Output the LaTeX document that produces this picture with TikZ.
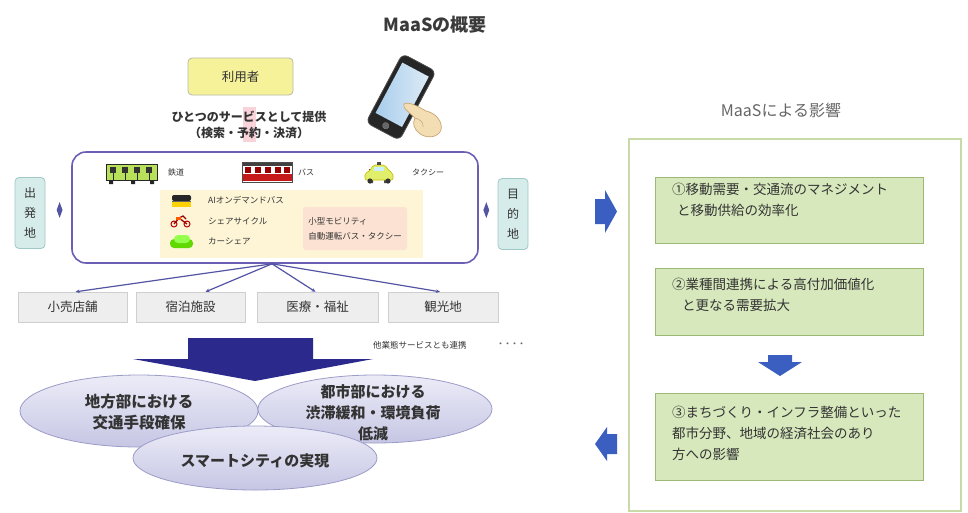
\documentclass[tikz,border=0pt]{standalone}
\usepackage{fontspec}
\setmainfont{Noto Sans CJK JP}
\usetikzlibrary{shapes.geometric,arrows.meta,calc}

\definecolor{textdark}{HTML}{333333}
\definecolor{titlegray}{HTML}{3A3A3A}
\definecolor{subgray}{HTML}{666666}
\definecolor{useryellow}{HTML}{F6F29A}
\definecolor{boxgray}{HTML}{B9B9A8}
\definecolor{pinkhl}{HTML}{F8D3DA}
\definecolor{mainpurple}{HTML}{6A5FB5}
\definecolor{inneryellow}{HTML}{FDF5D6}
\definecolor{pinkbox}{HTML}{FBE2D2}
\definecolor{tealfill}{HTML}{D6ECEA}
\definecolor{tealborder}{HTML}{9FC9C6}
\definecolor{fanline}{HTML}{5454A4}
\definecolor{destgray}{HTML}{EEEEEE}
\definecolor{destborder}{HTML}{CFCFCF}
\definecolor{navyarrow}{HTML}{2B2A8C}
\definecolor{elltop}{HTML}{ECECF8}
\definecolor{ellbot}{HTML}{C6C6E4}
\definecolor{ellborder}{HTML}{9C9CC8}
\definecolor{panelgreen}{HTML}{C9D9A8}
\definecolor{greenfill}{HTML}{D7E8BC}
\definecolor{greenborder}{HTML}{9DB874}
\definecolor{bluearrow}{HTML}{3B5FC0}
\definecolor{phonescreen}{HTML}{A9CDEB}
\definecolor{handfill}{HTML}{F3DDB3}
\definecolor{handline}{HTML}{C8A672}

\newcommand{\fsz}[2]{\fontsize{#1}{#2}\selectfont}

\begin{document}
\begin{tikzpicture}[x=1pt,y=-1pt,
  every node/.style={text=textdark},
  placebox/.style={draw=tealborder, fill=tealfill, rounded corners=4, line width=0.8,
    minimum width=30, minimum height=71, inner sep=0, align=center, font=\fsz{12}{20}},
  destbox/.style={draw=destborder, fill=destgray, minimum height=30, inner sep=0,
    font=\fsz{12.5}{15}},
  modelabel/.style={anchor=west, inner sep=0, font=\fsz{8}{9}},
  fan/.style={draw=fanline, line width=1.2, -{Stealth[length=4pt,width=3.5pt]}},
  effect/.style={draw=ellborder, fill=elltop, top color=elltop, bottom color=ellbot,
    ellipse, inner sep=0, line width=0.8},
  efftext/.style={align=center, inner sep=0, font=\bfseries\fsz{15.5}{21}},
  impact/.style={draw=greenborder, fill=greenfill, line width=1, minimum width=268, inner sep=0},
  imptext/.style={anchor=west, align=left, inner sep=0, font=\fsz{13.5}{21}},
  tick/.style={diamond, fill=fanline, minimum width=6, minimum height=16, inner sep=0},
]
\useasboundingbox (0,0) rectangle (968,512);
\fill[white] (0,0) rectangle (968,512);

% ---------- left half: overview ----------
\node[font=\bfseries\fsz{18}{22}, text=titlegray] (title) at (435,25) {MaaSの概要};

\node[draw=boxgray, fill=useryellow, rounded corners=4, line width=0.8,
      minimum width=105, minimum height=37, font=\fsz{12.5}{15}] (user) at (240.5,76.5) {利用者};

\fill[pinkhl] (243,107) rectangle (256,142);
\node[font=\bfseries\fsz{12}{16}, align=center] (svc) at (249,125) {ひとつのサービスとして提供\\（検索・予約・決済）};

% smartphone held by a hand
\begin{scope}[shift={(401,97)}, rotate=-28]
  \draw[black!70, fill=black!85, rounded corners=6, line width=0.8] (-19,-39) rectangle (19,39);
  \shade[left color=phonescreen, right color=phonescreen!40] (-15,-31) rectangle (15,26);
  \draw[black!50, fill=black!60] (0,32.5) circle (3.2);
\end{scope}
\draw[handline, fill=handfill, line width=0.7]
  (404,104) .. controls (409,101) and (419,107) .. (426,111)
  .. controls (436,113) and (443,122) .. (441,130)
  .. controls (438,138) and (426,139) .. (419,133)
  .. controls (414,129) and (412,123) .. (415,118)
  .. controls (410,113) and (402,108) .. (404,104) -- cycle;
\draw[handline, line width=0.6] (415,118) .. controls (420,119) and (424,123) .. (423,127);

% main service frame
\node[draw=mainpurple, line width=1.6, rounded corners=14, minimum width=406,
      minimum height=111, inner sep=0] (main) at (275,207.5) {};
\node[fill=inneryellow, minimum width=263, minimum height=68, inner sep=0] (modes) at (291.5,224) {};
\node[fill=pinkbox, rounded corners=3, minimum width=104, minimum height=43, inner sep=0,
      align=left, font=\fsz{8.5}{15}] (small) at (355,228.5) {小型モビリティ\\自動運転バス・タクシー};

% train icon
\fill[yellow!60!green!70] (106,164) rectangle (157,180);
\draw[black!85, line width=0.9] (106,164) rectangle (157,180);
\foreach \px in {110,122,134,146} {
  \fill[black!80] (\px,166.5) rectangle (\px+6,173);
  \draw[black!85, line width=0.8] (\px+3,173) -- (\px+3,180);
}
\fill[black!85] (109,180) rectangle (113,184) (131,180) rectangle (135,184) (150,180) rectangle (154,184);
\node[modelabel] (lrail) at (168,172) {鉄道};

% bus icon
\fill[white] (242,162) rectangle (292,182);
\fill[black!75] (242,162) rectangle (292,166);
\foreach \px in {245,255,265,275,284} \fill[red!60!black] (\px,167) rectangle (\px+6,173);
\fill[red!75!black!90] (242,174) rectangle (292,181);
\draw[black!70, line width=0.7] (242,162) rectangle (292,182);
\node[modelabel] (lbus) at (298,172) {バス};

% taxi icon
\fill[black!70] (369,169) rectangle (373,183) (384,169) rectangle (388,183);
\draw[yellow!50!olive, fill=yellow!80!green!60, line width=0.6, rounded corners=2]
  (365,180) -- (365,173) -- (370,171) -- (373,165) -- (385,165) -- (389,171) -- (393,173) -- (393,180) -- cycle;
\fill[white!80!cyan] (374,166.5) rectangle (384,170.5);
\fill[black!70] (377,162) rectangle (381,165);
\fill[black!80] (370,181) circle (2.6) (388,181) circle (2.6);
\node[modelabel] (ltaxi) at (412,172) {タクシー};

% on-demand bus icon
\fill[black!85, rounded corners=2] (172,195) rectangle (191,201);
\fill[yellow!70!orange] (172,201) rectangle (191,206.5);
\draw[black!60, line width=0.5] (172,201) -- (191,201);
\node[modelabel, font=\fsz{8.5}{9}] (laibus) at (208,200) {AIオンデマンドバス};

% bicycle icon
\draw[red!70!black, line width=1] (174,224) circle (3) (187,224) circle (3);
\draw[red!60!black, line width=1.3] (174,224) -- (179,218) -- (187,224) (179,218) -- (183,216) -- (186,219);
\fill[orange!70!red] (176,217) rectangle (181,220);
\node[modelabel, font=\fsz{8.5}{9}] (lcycle) at (208,221) {シェアサイクル};

% car-share icon
\fill[green!55!yellow!85!black, rounded corners=4] (170,239) rectangle (193,248);
\fill[green!60!yellow!70, rounded corners=4] (174,235) rectangle (190,243);
\node[modelabel, font=\fsz{8.5}{9}] (lcar) at (208,241) {カーシェア};

% origin / destination
\node[placebox] (orig) at (30,213) {出\\発\\地};
\node[placebox] (dest) at (513,214) {目\\的\\地};
\node[tick] (tin) at ($(orig.east)!0.55!(main.west)$) {};
\node[tick] (tout) at ($(main.east)!0.4!(dest.west)$) {};

% linked service destinations
\node[destbox, minimum width=109] (shop)  at (72.5,307) {小売店舗};
\node[destbox, minimum width=109] (hotel) at (190.5,307) {宿泊施設};
\node[destbox, minimum width=121] (care)  at (317.5,307) {医療・福祉};
\node[destbox, minimum width=110] (sight) at (443,307) {観光地};
\coordinate (hub) at ($(main.south)+(-3,0)$);
\draw[fan] (hub) -- ($(shop.north)+(3,0)$);
\draw[fan] (hub) -- ($(hotel.north)+(15,0)$);
\draw[fan] (hub) -- ($(care.north)+(-2,0)$);
\draw[fan] (hub) -- ($(sight.north)+(-3,0)$);
\node[anchor=west, inner sep=0, font=\fsz{8.5}{10}] (other) at (373,345) {他業態サービスとも連携};
\node[inner sep=0, font=\bfseries\fsz{7}{8}, text=subgray] (dots) at (511,345) {・・・・};

% big downward arrow
\fill[navyarrow] (188,338) -- (313,338) -- (313,359) -- (373,359) -- (255,381)
  -- (133,359) -- (188,359) -- cycle;

% effects
\node[effect, minimum width=238, minimum height=72] (rural) at (139,411) {};
\node[effect, minimum width=234, minimum height=68] (urban) at (375,409) {};
\node[effect, minimum width=244, minimum height=64] (smart) at (255,458) {};
\node[efftext] (truralt) at (139,412.5) {地方部における\\交通手段確保};
\node[efftext, font=\bfseries\fsz{15}{21}] (turban) at (373,413) {都市部における\\渋滞緩和・環境負荷\\低減};
\node[efftext, font=\bfseries\fsz{15}{18}] (tsmart) at (255,461) {スマートシティの実現};

% ---------- right half: impacts ----------
\node[font=\fsz{16}{20}, text=subgray] (title2) at (781,110) {MaaSによる影響};
\node[draw=panelgreen, line width=1.5, minimum width=332, minimum height=372,
      anchor=north west, inner sep=0] (panel) at (628,138) {};

\node[impact, minimum height=66] (imp1) at (789,210) {};
\node[imptext] (imp1t) at (672,200) {①移動需要・交通流のマネジメント\\\hspace*{5pt}と移動供給の効率化};
\node[impact, minimum height=67] (imp2) at (789,301.5) {};
\node[imptext] (imp2t) at (672,295) {②業種間連携による高付加価値化\\\hspace*{10pt}と更なる需要拡大};
\node[impact, minimum height=87] (imp3) at (789,436.5) {};
\node[imptext] (imp3t) at (672,433) {③まちづくり・インフラ整備といった\\都市分野、地域の経済社会のあり\\方への影響};

% small arrow between impacts 2 and 3
\fill[bluearrow] (768,355) -- (792,355) -- (792,362) -- (802,362) -- (780,376)
  -- (758,362) -- (768,362) -- cycle;

% arrows linking the two halves
\fill[bluearrow] (595,199) -- (605,199) -- (605,190) -- (617,211.5) -- (605,233)
  -- (605,224) -- (595,224) -- cycle;
\fill[bluearrow] (617,434) -- (607,434) -- (607,427) -- (595,444) -- (607,461)
  -- (607,454) -- (617,454) -- cycle;
\end{tikzpicture}
\end{document}
